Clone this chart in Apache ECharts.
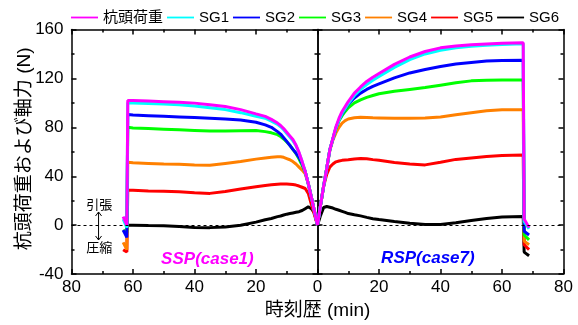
<!DOCTYPE html>
<html>
<head>
<meta charset="utf-8">
<script src="https://cdn.jsdelivr.net/npm/echarts@6/dist/echarts.min.js"></script>
<style>
  html, body { margin: 0; padding: 0; background: #fff; }
  #chart { width: 578px; height: 325px; }
</style>
</head>
<body>
<div id="chart"></div>
<script>
// Time (min) before / after the reference instant, per test
const sspTime = [63.2, 62.0, 61.7, 60, 55, 50, 45, 40, 35, 30, 25, 20, 17, 15, 13, 12, 11, 10, 9, 8, 7, 6, 5, 4, 3, 2, 1, 0];
const rspTime = [0, 1, 2, 3, 4, 5, 6, 7, 8, 9, 10, 12, 14, 16, 18, 20, 25, 30, 35, 40, 45, 50, 55, 60, 66.9, 67.2, 68.8];

// SSP(case1): pile head load and strain-gauge axial forces (N)
const sspHead = [7, 0, 102, 102, 101.5, 101, 100.5, 99.8, 98.5, 97, 94.5, 91, 89, 86.5, 83.5, 81.5, 79, 76, 73, 70, 65.5, 59.5, 52, 44, 34, 23, 11.5, 0];
const sspSG1  = [5, -2, 100, 100, 99.5, 99, 98.5, 97.5, 96, 94.5, 92, 89, 87.5, 85, 82.5, 80.5, 78, 75, 72, 69, 65, 59, 52, 44, 34, 23, 11.5, 0];
const sspSG2  = [-4, -10, 90.5, 90, 89.5, 89, 88.5, 88, 87.5, 86.8, 86, 84.2, 82, 80, 76.5, 74.5, 71.5, 68.5, 65.3, 62, 59, 55.5, 50.5, 44, 34, 23, 11.5, 0];
const sspSG3  = [-4, -6, 80, 79.5, 79, 78.5, 78, 77.5, 77, 77, 77.3, 77.4, 76.5, 75.5, 74, 72.5, 70.5, 68, 65.5, 62, 58.5, 54, 49, 43.5, 34, 23, 11.5, 0];
const sspSG4  = [-14, -20, 51.5, 51, 50.5, 50, 49.8, 49.3, 49, 50.5, 52, 54, 55, 55.5, 56, 56, 55.5, 54.5, 53.5, 52, 50, 47.5, 45, 42, 34, 23, 11.5, 0];
const sspSG5  = [-20, -22, 28.5, 28.5, 28, 27.7, 27.3, 26.5, 26, 27.5, 29.5, 31.5, 32.5, 33, 33.5, 33.6, 33.6, 33.6, 33.5, 33.2, 32.8, 32, 31, 30, 26, 17, 8.5, 0];
const sspSG6  = [null, 0, 0, 0, -0.3, -0.5, -1, -1.8, -2, -1.5, 0, 2.5, 4.5, 5.5, 7, 7.5, 8.3, 9, 9.5, 10, 10.5, 11, 12, 13.5, 15, 13.5, 10, 0];

// RSP(case7): pile head load and strain-gauge axial forces (N)
const rspHead = [0, 16.5, 32, 46.5, 61.5, 71, 80.5, 87.5, 93, 97, 101, 108, 113, 117.5, 121, 124, 131.5, 137.5, 142, 145, 146.5, 147.5, 148.2, 148.7, 149.2, 5, -2];
const rspSG1  = [0, 16.5, 32, 46.5, 61.5, 70.5, 79.5, 86, 91.5, 95.5, 99.5, 106, 111, 115, 118.5, 121.5, 129, 135.3, 140, 143, 145, 146.3, 147.2, 147.8, 148.3, 3, -3];
const rspSG2  = [0, 16.5, 32, 46.5, 61.5, 70.5, 79.5, 86, 91, 95, 99, 104, 108, 111, 113.5, 115.5, 120.5, 124.5, 127.3, 129.8, 131.8, 133, 134.2, 134.6, 134.8, -5, -8];
const rspSG3  = [0, 16.5, 32, 46.5, 61.5, 70.5, 79, 85.5, 89.5, 93, 96, 100, 102.5, 104.5, 106, 107.5, 109.5, 111, 112.5, 114.5, 116.5, 118, 118.5, 118.7, 118.8, -8, -12];
const rspSG4  = [0, 16.5, 32, 46.5, 61, 69.5, 75.5, 80, 83.5, 85.5, 86.8, 87.8, 88.2, 88, 87.8, 87.7, 87.4, 87.4, 87.7, 88.5, 90.3, 92, 93.5, 94.3, 94.4, -13, -16];
const rspSG5  = [0, 16.5, 32, 41.5, 47.5, 50, 51.8, 52.5, 53, 53.3, 53.5, 54.2, 54.6, 54.3, 53.6, 53, 51.3, 50, 49.3, 51.5, 53.8, 55, 56.2, 56.9, 57.3, -16, -20];
const rspSG6  = [0, 8, 14.5, 15.3, 14.7, 14, 13, 12.2, 11.3, 10.4, 9.5, 8.5, 7.6, 6.4, 5.3, 4.6, 3, 1.5, 0.5, 0.5, 2, 3.8, 5.4, 6.6, 7, -22, -25];

const seriesNames = ['杭頭荷重', 'SG1', 'SG2', 'SG3', 'SG4', 'SG5', 'SG6'];
const seriesColors = ['#FF00FF', '#00FFFF', '#0000FF', '#00FF00', '#FF8000', '#FF0000', '#000000'];
const sspValues = [sspHead, sspSG1, sspSG2, sspSG3, sspSG4, sspSG5, sspSG6];
const rspValues = [rspHead, rspSG1, rspSG2, rspSG3, rspSG4, rspSG5, rspSG6];

const xTicks = { min: -80, max: 80, interval: 20 };
const yTicks = { min: -40, max: 160, interval: 40 };

const FONT = "'Liberation Sans', 'Noto Sans CJK JP', sans-serif";
const GRID = { left: 71.5, top: 29.5, width: 492, height: 248 };

const chart = echarts.init(document.getElementById('chart'), null, { renderer: 'canvas' });

// SSP runs on the left half (time reversed), RSP on the right half.
function makeSeries(name, color, times, values, sign, withZeroLine) {
  const s = {
    name: name,
    type: 'line',
    xAxisIndex: 0,
    yAxisIndex: 0,
    symbol: 'none',
    connectNulls: false,
    animation: false,
    lineStyle: { color: color, width: 3 },
    itemStyle: { color: color },
    data: times.map((t, i) => [sign * t, values[i]])
  };
  if (withZeroLine) {
    s.markLine = {
      silent: true,
      symbol: 'none',
      label: { show: false },
      lineStyle: { color: '#000', width: 1, type: [3, 3] },
      data: [{ yAxis: 0 }]
    };
  }
  return s;
}

const series = [];
// Draw gauges first so the pile head load sits on top.
for (let k = seriesNames.length - 1; k >= 0; k--) {
  series.push(makeSeries(seriesNames[k], seriesColors[k], sspTime, sspValues[k], -1, k === seriesNames.length - 1));
  series.push(makeSeries(seriesNames[k], seriesColors[k], rspTime, rspValues[k], 1, false));
}

const axisLineStyle = { color: '#000', width: 1.5 };
function xAxisDef(pos, showLabel) {
  return {
    type: 'value', position: pos,
    min: xTicks.min, max: xTicks.max, interval: xTicks.interval,
    axisLine: { show: true, onZero: false, lineStyle: axisLineStyle },
    axisTick: { show: true, inside: true, length: 5, lineStyle: { color: '#000', width: 1.5 } },
    minorTick: { show: true, splitNumber: 2, length: 3, lineStyle: { color: '#000', width: 1.5 } },
    splitLine: { show: false },
    axisLabel: {
      show: showLabel, color: '#000', fontSize: 17, fontFamily: FONT, margin: 5,
      formatter: v => String(Math.abs(v))
    },
    name: showLabel ? '時刻歴 (min)' : '',
    nameLocation: 'middle', nameGap: 26,
    nameTextStyle: { color: '#000', fontSize: 19, fontFamily: FONT }
  };
}
function yAxisDef(pos, showLabel, offset, inside) {
  return {
    type: 'value', position: pos, offset: offset,
    min: yTicks.min, max: yTicks.max, interval: yTicks.interval,
    axisLine: { show: true, onZero: false, lineStyle: axisLineStyle },
    axisTick: { show: true, inside: inside, length: 5, lineStyle: { color: '#000', width: 1.5 } },
    minorTick: { show: true, splitNumber: 2, length: 3, lineStyle: { color: '#000', width: 1.5 } },
    splitLine: { show: false },
    axisLabel: { show: showLabel, color: '#000', fontSize: 17, fontFamily: FONT, margin: 8 }
  };
}

chart.setOption({
  animation: false,
  backgroundColor: '#fff',
  grid: GRID,
  legend: {
    data: seriesNames,
    left: 71, top: 10, width: 505, padding: 0,
    itemWidth: 27, itemHeight: 14, itemGap: 4,
    icon: 'path://M0,0H30V2H0Z',
    textStyle: { color: '#000', fontSize: 15, fontFamily: FONT }
  },
  xAxis: [xAxisDef('bottom', true), xAxisDef('top', false)],
  yAxis: [
    yAxisDef('left', true, 0, true),
    yAxisDef('right', false, 0, true),
    // shared axis at time 0 with ticks on both sides
    yAxisDef('left', false, -GRID.width / 2, true),
    yAxisDef('left', false, -GRID.width / 2, false)
  ],
  series: series
});

// Annotations placed in data coordinates
function px(x, y) { return chart.convertToPixel({ xAxisIndex: 0, yAxisIndex: 0 }, [x, y]); }
const pTen = px(-71, 16.3);
const pCom = px(-71, -18.8);
const aTop = px(-71.2, 10.8);
const aBot = px(-71.2, -12.1);
const pSSP = px(-35.8, -27.5);
const pRSP = px(35.9, -26.7);
const pMid = px(0, 60);
const ah = 3;
chart.setOption({
  graphic: [
    {
      type: 'text', x: 24.5, y: pMid[1] - 3, rotation: Math.PI / 2,
      style: { text: '杭頭荷重および軸力 (N)', fill: '#000', font: '19px ' + FONT, textAlign: 'center', textVerticalAlign: 'middle' }
    },
    { type: 'text', x: pTen[0], y: pTen[1], style: { text: '引張', fill: '#000', font: '13px ' + FONT, textAlign: 'center', textVerticalAlign: 'middle' } },
    { type: 'text', x: pCom[0], y: pCom[1], style: { text: '圧縮', fill: '#000', font: '13px ' + FONT, textAlign: 'center', textVerticalAlign: 'middle' } },
    { type: 'line', shape: { x1: aTop[0], y1: aTop[1], x2: aBot[0], y2: aBot[1] }, style: { stroke: '#000', lineWidth: 1 } },
    { type: 'polyline', shape: { points: [[aTop[0] - ah, aTop[1] + ah + 1], [aTop[0], aTop[1]], [aTop[0] + ah, aTop[1] + ah + 1]] }, style: { stroke: '#000', lineWidth: 1, fill: null } },
    { type: 'polyline', shape: { points: [[aBot[0] - ah, aBot[1] - ah - 1], [aBot[0], aBot[1]], [aBot[0] + ah, aBot[1] - ah - 1]] }, style: { stroke: '#000', lineWidth: 1, fill: null } },
    { type: 'text', x: pSSP[0], y: pSSP[1], style: { text: 'SSP(case1)', fill: '#FF00FF', font: 'italic bold 17px ' + FONT, textAlign: 'center', textVerticalAlign: 'middle' } },
    { type: 'text', x: pRSP[0], y: pRSP[1], style: { text: 'RSP(case7)', fill: '#0000FF', font: 'italic bold 17px ' + FONT, textAlign: 'center', textVerticalAlign: 'middle' } }
  ]
});
</script>
</body>
</html>
